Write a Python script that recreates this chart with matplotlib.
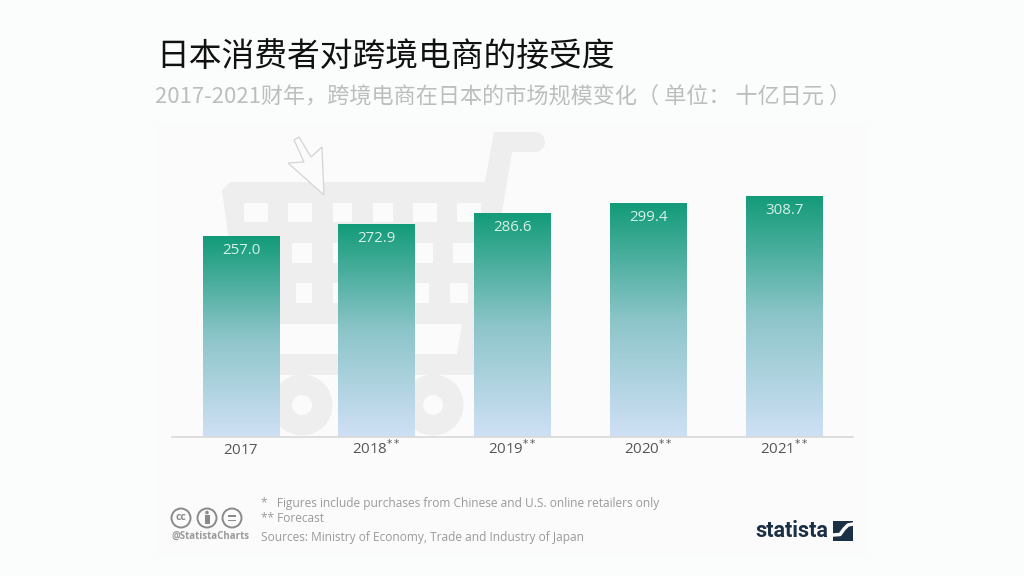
import numpy as np
import matplotlib
matplotlib.use('Agg')
import matplotlib.pyplot as plt
from matplotlib.colors import LinearSegmentedColormap
from matplotlib.patches import Polygon, Circle, Rectangle

years = ['2017', '2018', '2019', '2020', '2021']
suffix = ['', '**', '**', '**', '**']
values = [257.0, 272.9, 286.6, 299.4, 308.7]

title = '日本消费者对跨境电商的接受度'
subtitle = '2017-2021财年，跨境电商在日本的市场规模变化（ 单位： 十亿日元 ）'
notes = ['*   Figures include purchases from Chinese and U.S. online retailers only',
         '** Forecast',
         'Sources: Ministry of Economy, Trade and Industry of Japan']

W, H = 1024, 576
page_col = '#fbfcfc'
panel_col = '#fbfbfb'
plt.rcParams['font.family'] = ['Open Sans', 'Noto Sans CJK SC', 'DejaVu Sans']

fig = plt.figure(figsize=(W / 100, H / 100), dpi=100, facecolor=page_col)

# 背景层，直接用像素坐标
bg = fig.add_axes([0, 0, 1, 1], zorder=0)
bg.set_xlim(0, W)
bg.set_ylim(H, 0)
bg.axis('off')
bg.add_patch(Rectangle((155, 125), 713, 430, fc=panel_col, ec='none'))

cart_col = '#eeeeee'
cart = [(222, 190), (230, 182), (485, 182), (494, 132), (535, 132), (535, 152),
        (512, 152), (475, 375), (270, 375), (270, 323), (240, 323)]
bg.add_patch(Polygon(cart, closed=True, fc=cart_col, ec='none'))
bg.add_patch(Circle((535, 142), 10, fc=cart_col, ec='none'))
for y0, y1, cols in [(203, 222, [(244, 268), (288, 312), (333, 352), (373, 393), (413, 437), (457, 481)]),
                     (243, 263, [(292, 312), (333, 352), (413, 433), (453, 475)]),
                     (283, 303, [(296, 312), (333, 352), (413, 429), (450, 468)])]:
    for x0, x1 in cols:
        bg.add_patch(Rectangle((x0, y0), x1 - x0, y1 - y0, fc=panel_col, ec='none'))
bg.add_patch(Polygon([(270, 324), (462, 324), (457, 354), (270, 354)], closed=True, fc=panel_col, ec='none'))
for cx in [302, 433]:
    bg.add_patch(Circle((cx, 405), 30.5, fc=cart_col, ec='none'))
    bg.add_patch(Circle((cx, 405), 10, fc=panel_col, ec='none'))
arrow = [(294, 140), (299, 137), (311, 157), (322, 147), (324, 195), (288, 163), (304, 162)]
bg.add_patch(Polygon(arrow, closed=True, fc=panel_col, ec='#d4d4d4', lw=0.9))

# 柱状图
base_y = 437
x_left, x_right = 172, 853
px_per_unit = 0.782
ymax = 350
ax = fig.add_axes([x_left / W, 1 - base_y / H, (x_right - x_left) / W, ymax * px_per_unit / H], zorder=2)
ax.patch.set_alpha(0)
step = 135.75
xlim = (-(241 - x_left) / step, (x_right - 241) / step)

cmap = LinearSegmentedColormap.from_list('bar', ['#cfe0f5', '#8cc5c9', '#129b78'])
grad = np.linspace(1, 0, 256).reshape(-1, 1)
bars = ax.bar(range(len(values)), values, width=77 / step, color='none', edgecolor='none')
for bar, val in zip(bars, values):
    x = bar.get_x()
    im = ax.imshow(grad, cmap=cmap, vmin=0, vmax=1, aspect='auto', zorder=2,
                   extent=(x, x + bar.get_width(), 0, val))
    im.set_clip_path(bar)
    ax.text(x + bar.get_width() / 2, val - 19, f'{val:.1f}', ha='center', va='center',
            fontsize=10.8, color='#d8f0e8', zorder=3)
ax.set_xlim(*xlim)
ax.set_ylim(0, ymax)

ax.set_xticks(range(len(years)))
ax.set_xticklabels([f'{y}$^{{{s}}}$' if s else f'{y}$\\,$' for y, s in zip(years, suffix)],
                   fontsize=10.8, color='#555555', va='baseline')
ax.tick_params(axis='x', length=0, pad=12)
ax.set_yticks([])
for side in ['top', 'left', 'right']:
    ax.spines[side].set_visible(False)
ax.spines['bottom'].set_color('#d9d9d9')
ax.spines['bottom'].set_linewidth(1.2)

# 标题
cjk = ['Noto Sans CJK SC', 'DejaVu Sans']
bg.text(156, 58, title, fontsize=23.6, color='#111111', ha='left', va='center', family=cjk)
bg.text(155, 98, subtitle, fontsize=15.9, color='#bdbdbd', ha='left', va='center', family=cjk)

# 脚注
for y, note in zip([504, 518, 537], notes):
    bg.text(261, y, note, fontsize=8.6, color='#9a9a9a', ha='left', va='center')

icon_col = '#8a8a8a'
for cx in [181, 207, 232]:
    bg.add_patch(Circle((cx, 518), 9.5, fc='none', ec=icon_col, lw=1.4))
bg.text(181, 518, 'cc', fontsize=7.5, fontweight='bold', color=icon_col, ha='center', va='center')
bg.add_patch(Circle((207, 512.5), 1.8, fc=icon_col, ec='none'))
bg.add_patch(Rectangle((204.5, 515), 5, 9, fc=icon_col, ec='none'))
bg.add_patch(Rectangle((228, 515), 8, 1.8, fc=icon_col, ec='none'))
bg.add_patch(Rectangle((228, 519.5), 8, 1.8, fc=icon_col, ec='none'))
bg.text(210.5, 536.5, '@StatistaCharts', fontsize=7, fontweight='bold', color='#9a9a9a', ha='center', va='center')

bg.text(755, 531, 'statista', fontsize=15.5, fontweight='bold', color='#1b2f45', ha='left', va='center',
        family=['Roboto', 'DejaVu Sans'])
bg.add_patch(Rectangle((833, 521), 20, 20, fc='#1b2f45', ec='none'))
bg.plot([833, 840, 844, 848, 853], [535, 534.5, 529, 525, 524], color=panel_col, lw=2.5)

fig.savefig('out.png', dpi=100, facecolor=page_col)
